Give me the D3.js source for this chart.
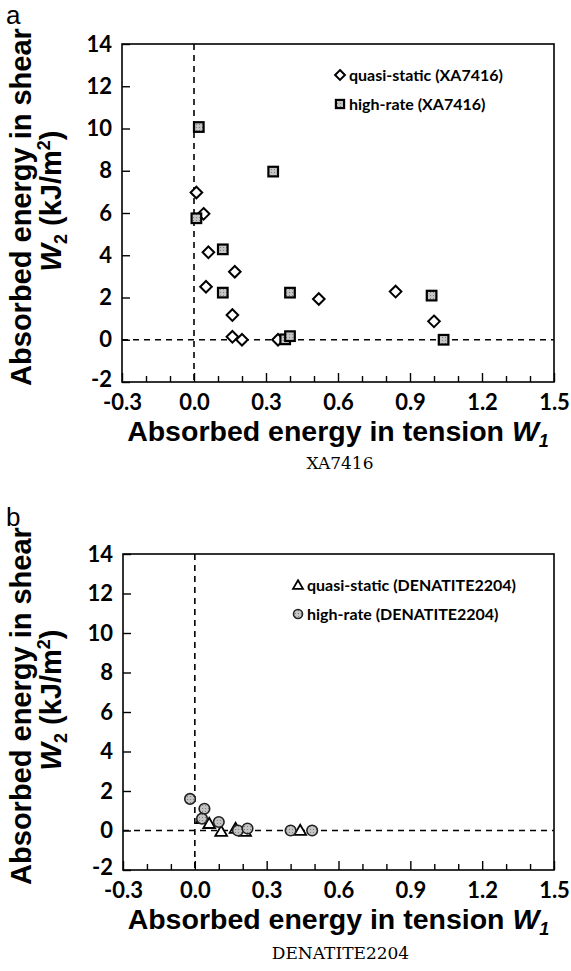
<!DOCTYPE html>
<html>
<head>
<meta charset="utf-8">
<script src="https://cdn.jsdelivr.net/npm/d3@7"></script>
<style>
  body { margin: 0; background: #fff; }
  svg text { fill: #000; }
</style>
</head>
<body>
<div id="chart"></div>
<script>
const width = 571;
const height = 971;

// axis ticks (shared by both panels)
const xTicks = [-0.3, 0.0, 0.3, 0.6, 0.9, 1.2, 1.5];
const xMinorTicks = [-0.2, -0.1, 0.1, 0.2, 0.4, 0.5, 0.7, 0.8, 1.0, 1.1, 1.3, 1.4];
const yTicks = [-2, 0, 2, 4, 6, 8, 10, 12, 14];

// panel a: XA7416
const xaQuasiW1 = [0.01, 0.04, 0.06, 0.17, 0.05, 0.16, 0.16, 0.20, 0.35, 0.52, 0.84, 1.00];
const xaQuasiW2 = [6.97, 5.96, 4.14, 3.22, 2.51, 1.17, 0.14, 0.0, 0.0, 1.93, 2.28, 0.87];
const xaHighW1 = [0.02, 0.33, 0.01, 0.12, 0.12, 0.40, 0.38, 0.40, 0.99, 1.04];
const xaHighW2 = [10.07, 7.96, 5.75, 4.28, 2.23, 2.23, 0.02, 0.17, 2.09, 0.0];

// panel b: DENATITE2204
const dnQuasiW1 = [0.03, 0.06, 0.11, 0.17, 0.21, 0.44];
const dnQuasiW2 = [0.6, 0.35, -0.05, 0.1, -0.05, 0.0];
const dnHighW1 = [-0.02, 0.04, 0.03, 0.10, 0.18, 0.22, 0.40, 0.49];
const dnHighW2 = [1.6, 1.1, 0.6, 0.43, 0.0, 0.1, 0.0, 0.0];

const svg = d3.select("#chart")
  .append("svg")
  .attr("width", width)
  .attr("height", height);

const sans = "'Liberation Sans', Arial, sans-serif";
const tickFont = "Lato, 'Open Sans', sans-serif";

// stippled grey fill used by the filled markers
const pattern = svg.append("defs")
  .append("pattern")
  .attr("id", "stipple")
  .attr("width", 3).attr("height", 3)
  .attr("patternUnits", "userSpaceOnUse");
pattern.append("rect").attr("width", 3).attr("height", 3).attr("fill", "#c4c4c4");
pattern.append("rect").attr("x", 1).attr("y", 1).attr("width", 1).attr("height", 1).attr("fill", "#808080");

const drawPanel = (opts) => {
  const { letter, letterY, box, caption, captionY, legend, series } = opts;

  const xScale = d3.scaleLinear().domain([-0.3, 1.5]).range([box.left, box.right]);
  const yScale = d3.scaleLinear().domain([-2, 14]).range([box.bottom, box.top]);

  const g = svg.append("g");

  // panel letter
  g.append("text")
    .attr("x", 6)
    .attr("y", letterY)
    .attr("font-family", sans)
    .attr("font-size", 26)
    .text(letter);

  // dashed zero lines
  g.append("line")
    .attr("x1", xScale(0)).attr("x2", xScale(0))
    .attr("y1", box.top).attr("y2", box.bottom)
    .attr("stroke", "#000").attr("stroke-width", 1.6)
    .attr("stroke-dasharray", "6 5");
  g.append("line")
    .attr("x1", box.left).attr("x2", box.right)
    .attr("y1", yScale(0)).attr("y2", yScale(0))
    .attr("stroke", "#000").attr("stroke-width", 1.6)
    .attr("stroke-dasharray", "6 5");

  // x axis: major ticks + minor ticks pointing inward
  const xAxis = g.append("g")
    .attr("transform", `translate(0, ${box.bottom})`)
    .call(d3.axisBottom(xScale).tickValues(xTicks).tickSize(-9).tickPadding(12)
      .tickFormat((d) => d.toFixed(1)));
  xAxis.select(".domain").remove();
  xAxis.selectAll("line").attr("stroke", "#000").attr("stroke-width", 1.4);
  xAxis.selectAll("text")
    .attr("font-family", tickFont)
    .attr("font-weight", 700)
    .attr("font-size", 22);

  const xMinor = g.append("g")
    .attr("transform", `translate(0, ${box.bottom})`)
    .call(d3.axisBottom(xScale).tickValues(xMinorTicks).tickSize(-6).tickFormat(""));
  xMinor.select(".domain").remove();
  xMinor.selectAll("line").attr("stroke", "#000").attr("stroke-width", 1.4);

  // y axis
  const yAxis = g.append("g")
    .attr("transform", `translate(${box.left}, 0)`)
    .call(d3.axisLeft(yScale).tickValues(yTicks).tickSize(-8).tickPadding(10)
      .tickFormat((d) => String(d)));
  yAxis.select(".domain").remove();
  yAxis.selectAll("line").attr("stroke", "#000").attr("stroke-width", 1.4);
  yAxis.selectAll("text")
    .attr("font-family", tickFont)
    .attr("font-weight", 700)
    .attr("font-size", 22);
  // the -2 label sits a touch higher so it clears the x labels
  yAxis.selectAll(".tick").filter((d) => d === -2).select("text").attr("dy", "0.2em");

  // frame
  g.append("rect")
    .attr("x", box.left).attr("y", box.top)
    .attr("width", box.right - box.left)
    .attr("height", box.bottom - box.top)
    .attr("fill", "none")
    .attr("stroke", "#000")
    .attr("stroke-width", 1.6);

  // markers
  series.forEach((s) => {
    const pts = s.w1.map((w1, i) => [xScale(w1), yScale(s.w2[i])]);
    drawMarkers(g, pts, s.shape);
  });

  // legend
  legend.forEach((item, i) => {
    const y = box.top + 31 + i * 29;
    drawMarkers(g, [[item.x, y]], item.shape, 0.85);
    g.append("text")
      .attr("x", item.x + 9)
      .attr("y", y)
      .attr("dy", "0.35em")
      .attr("font-family", tickFont)
      .attr("font-weight", 700)
      .attr("font-size", 16)
      .text(item.label);
  });

  // y axis title (two lines)
  const midY = (box.top + box.bottom) / 2 - 6;
  g.append("text")
    .attr("transform", `translate(31, ${midY}) rotate(-90)`)
    .attr("text-anchor", "middle")
    .attr("font-family", sans)
    .attr("font-weight", 700)
    .attr("font-size", 29)
    .text("Absorbed energy in shear");
  const yt2 = g.append("text")
    .attr("transform", `translate(61, ${midY - 6}) rotate(-90)`)
    .attr("text-anchor", "middle")
    .attr("font-family", sans)
    .attr("font-weight", 700)
    .attr("font-size", 29);
  yt2.append("tspan").attr("font-style", "italic").text("W");
  yt2.append("tspan").attr("font-size", 18).attr("dy", 6).text("2");
  yt2.append("tspan").attr("dy", -6).text(" (kJ/m");
  yt2.append("tspan").attr("font-size", 18).attr("dy", -11).text("2");
  yt2.append("tspan").attr("dy", 11).text(")");

  // x axis title
  const xt = g.append("text")
    .attr("x", (box.left + box.right) / 2)
    .attr("y", box.bottom + 59)
    .attr("text-anchor", "middle")
    .attr("font-family", sans)
    .attr("font-weight", 700)
    .attr("font-size", 28.5);
  xt.append("tspan").text("Absorbed energy in tension ");
  xt.append("tspan").attr("font-style", "italic").text("W");
  xt.append("tspan").attr("font-style", "italic").attr("font-size", 18).attr("dy", 6).text("1");

  // caption below
  g.append("text")
    .attr("x", (box.left + box.right) / 2 + 2)
    .attr("y", captionY)
    .attr("text-anchor", "middle")
    .attr("font-family", "'DejaVu Serif', serif")
    .attr("font-size", 17)
    .text(caption);
};

function drawMarkers(g, pts, shape, scale = 1) {
  pts.forEach(([x, y]) => {
    if (shape === "diamond") {
      const r = 5.8 * scale;
      g.append("path")
        .attr("d", `M${x},${y - r}L${x + r},${y}L${x},${y + r}L${x - r},${y}Z`)
        .attr("fill", "#fff").attr("stroke", "#000").attr("stroke-width", 2);
    } else if (shape === "square") {
      const h = 4.8 * scale;
      g.append("rect")
        .attr("x", x - h).attr("y", y - h)
        .attr("width", 2 * h).attr("height", 2 * h)
        .attr("fill", "url(#stipple)").attr("stroke", "#000").attr("stroke-width", 2.2);
    } else if (shape === "triangle") {
      g.append("path")
        .attr("d", d3.symbol(d3.symbolTriangle, 60 * scale * scale)())
        .attr("transform", `translate(${x}, ${y + 1})`)
        .attr("fill", "#fff").attr("stroke", "#000").attr("stroke-width", 1.8);
    } else {
      g.append("circle")
        .attr("cx", x).attr("cy", y).attr("r", 5.3 * scale)
        .attr("fill", "url(#stipple)").attr("stroke", "#222").attr("stroke-width", 1.6);
    }
  });
}

drawPanel({
  letter: "a",
  letterY: 24,
  box: { left: 122, right: 554, top: 44, bottom: 382 },
  caption: "XA7416",
  captionY: 469,
  legend: [
    { shape: "diamond", label: "quasi-static (XA7416)", x: 340 },
    { shape: "square", label: "high-rate (XA7416)", x: 340 },
  ],
  series: [
    { shape: "diamond", w1: xaQuasiW1, w2: xaQuasiW2 },
    { shape: "square", w1: xaHighW1, w2: xaHighW2 },
  ],
});

drawPanel({
  letter: "b",
  letterY: 526,
  box: { left: 123, right: 554, top: 554, bottom: 870 },
  caption: "DENATITE2204",
  captionY: 959,
  legend: [
    { shape: "triangle", label: "quasi-static (DENATITE2204)", x: 298 },
    { shape: "circle", label: "high-rate (DENATITE2204)", x: 298 },
  ],
  series: [
    { shape: "triangle", w1: dnQuasiW1, w2: dnQuasiW2 },
    { shape: "circle", w1: dnHighW1, w2: dnHighW2 },
  ],
});
</script>
</body>
</html>
